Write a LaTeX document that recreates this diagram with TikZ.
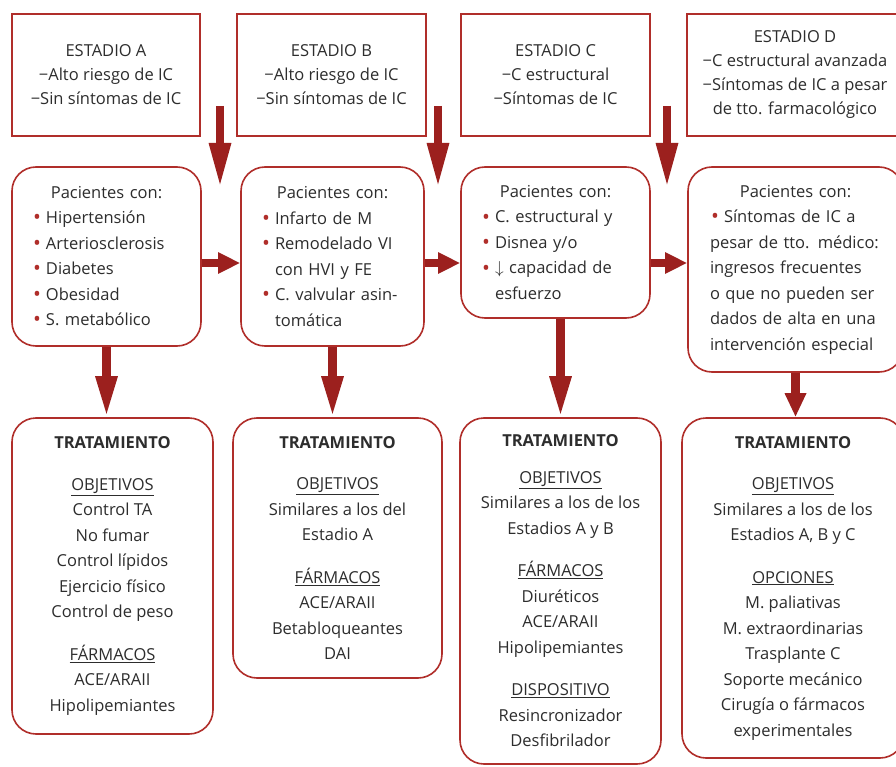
\documentclass[tikz,border=0pt]{standalone}
\usepackage{fontspec}
\setmainfont{Open Sans}
\usepackage{tikz}
\usetikzlibrary{arrows.meta,positioning}
\definecolor{boxred}{RGB}{176,46,42}
\definecolor{arrred}{RGB}{156,32,30}
\definecolor{txt}{RGB}{45,45,45}
\newcommand\fsz{\fontsize{16.5}{25.5}\selectfont}
\newcommand\bul{\makebox[12pt][l]{\hspace*{-1pt}\raisebox{-1.2pt}{\fontsize{21}{21}\selectfont\textcolor{boxred}{•}}}}
\newcommand\ind{\hspace*{12pt}}
\tikzset{
  stage/.style={rectangle, draw=boxred, line width=1.6pt, align=center, inner sep=0pt,
    minimum height=122pt, text=txt, font=\fontsize{16.5}{24}\selectfont},
  pat/.style={rectangle, draw=boxred, line width=1.6pt, rounded corners=24pt, align=left,
    inner xsep=22pt, inner ysep=0pt, text=txt, font=\fsz},
  trat/.style={rectangle, draw=boxred, line width=1.6pt, rounded corners=24pt, align=center,
    inner sep=0pt, text=txt, font=\fsz},
  arr/.style={-{Triangle[length=#1, width=20pt]}, line width=8.5pt, draw=arrred},
  arr/.default=40pt
}

\begin{document}
\begin{tikzpicture}[x=1pt, y=-1pt]
\useasboundingbox (0,0) rectangle (896,767);
\clip (0,0) rectangle (896,767);
\fill[white] (0,0) rectangle (896,767);

\node[stage, minimum width=188pt] (sa) at (106,75) {ESTADIO A\\−Alto riesgo de IC\\−Sin síntomas de IC};
\node[stage, minimum width=189pt] (sb) at (331.5,75) {ESTADIO B\\−Alto riesgo de IC\\−Sin síntomas de IC};
\node[stage, minimum width=189pt] (sc) at (555.5,75) {ESTADIO C\\−C estructural\\−Síntomas de IC};
\node[stage, minimum width=216pt] (sd) at (795,75) {ESTADIO D\\−C estructural avanzada\\−Síntomas de IC a pesar\\de tto. farmacológico};

\node[pat, text width=145pt, minimum height=179pt] (pa) at (106.5,256.5) {{\centering Pacientes con:\par}
\bul Hipertensión\\ \bul Arteriosclerosis\\ \bul Diabetes\\ \bul Obesidad\\ \bul S. metabólico};
\node[pat, text width=139pt, minimum height=179pt] (pb) at (332.5,256.5) {{\centering Pacientes con:\par}
\bul Infarto de M\\ \bul Remodelado VI\\ \ind con HVI y FE\\ \bul C. valvular asin-\\ \ind tomática};
\node[pat, text width=145pt, minimum height=151pt] (pc) at (555.5,242.5) {{\centering Pacientes con:\par}
\bul C. estructural y\\ \bul Disnea y/o\\ \bul $\downarrow$ capacidad de\\ \ind esfuerzo};
\node[pat, text width=171pt, minimum height=205pt] (pd) at (795.5,269.5) {{\centering Pacientes con:\par}
\hspace*{2pt}\bul Síntomas de IC a\\ pesar de tto. médico:\\ ingresos frecuentes\\ o que no pueden ser\\ dados de alta en una\\ intervención especial};

\node[trat, minimum width=201pt, minimum height=316pt] (ta) at (112.5,576) {\textbf{TRATAMIENTO}\\[16pt]
\underline{OBJETIVOS}\\ Control TA\\ No fumar\\ Control lípidos\\ Ejercicio físico\\ Control de peso\\[17pt]
\underline{FÁRMACOS}\\ ACE/ARAII\\ Hipolipemiantes};
\node[trat, minimum width=209pt, minimum height=260pt] (tb) at (337.5,548) {\textbf{TRATAMIENTO}\\[16pt]
\underline{OBJETIVOS}\\ Similares a los del\\ Estadio A\\[17pt]
\underline{FÁRMACOS}\\ ACE/ARAII\\ Betabloqueantes\\ DAI};
\node[trat, minimum width=201pt, minimum height=346pt] (tc) at (560.5,591) {\textbf{TRATAMIENTO}\\[11pt]
\underline{OBJETIVOS}\\ Similares a los de los\\ Estadios A y B\\[17pt]
\underline{FÁRMACOS}\\ Diuréticos\\ ACE/ARAII\\ Hipolipemiantes\\[17pt]
\underline{DISPOSITIVO}\\ Resincronizador\\ Desfibrilador};
\node[trat, minimum width=222pt, minimum height=340pt] (td) at (793,588) {\textbf{TRATAMIENTO}\\[16pt]
\underline{OBJETIVOS}\\ Similares a los de los\\ Estadios A, B y C\\[17pt]
\underline{OPCIONES}\\ M. paliativas\\ M. extraordinarias\\ Trasplante C\\ Soporte mecánico\\ Cirugía o fármacos\\ experimentales};

\coordinate (inA) at (220,106); \coordinate (toA) at (220,188);
\coordinate (inB) at (438,106); \coordinate (toB) at (438,188);
\coordinate (inC) at (667,106); \coordinate (toC) at (667,188);
\coordinate (hy) at (0,263);

\draw[arr=45pt] (inA) -- (toA); \draw[arr=45pt] (inB) -- (toB); \draw[arr=45pt] (inC) -- (toC);
\draw[arr=22pt] (pa.east |- hy) -- (pb.west |- hy);
\draw[arr=22pt] (pb.east |- hy) -- (pc.west |- hy);
\draw[arr=22pt] (pc.east |- hy) -- (pd.west |- hy);
\draw[arr=41pt] (pa.south) -- (pa.south |- ta.north);
\draw[arr=41pt] (pb.south) -- (pb.south |- tb.north);
\draw[arr=41pt] (tc.north |- pc.south) -- (tc.north);
\draw[arr=24pt] (pd.south) -- (pd.south |- td.north);
\end{tikzpicture}
\end{document}
